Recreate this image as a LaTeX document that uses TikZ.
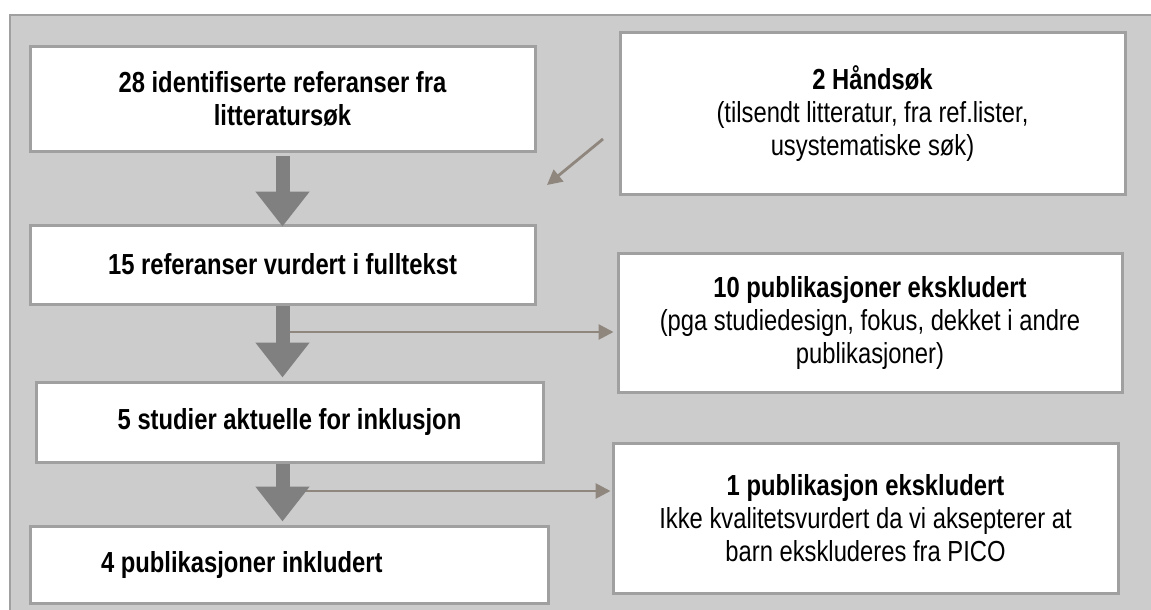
\documentclass[tikz,border=0pt]{standalone}
\usepackage{fontspec}
\setmainfont{Liberation Sans}[FakeStretch=0.82]
\usetikzlibrary{arrows.meta}
\definecolor{bgcol}{HTML}{CCCCCC}
\definecolor{boxline}{HTML}{A0A0A0}
\definecolor{bigarr}{HTML}{808080}
\definecolor{thinarr}{HTML}{8F867E}
\begin{document}
\begin{tikzpicture}[x=1pt,y=-1pt,
  box/.style={draw=boxline, line width=3pt, fill=white, rectangle, inner sep=0pt,
    align=center, font=\fontsize{29}{33}\selectfont},
  bigarrow/.style={draw=bigarr, line width=14pt, -{Triangle[length=35pt,width=52pt]}},
  thinarrow/.style={draw=thinarr, line width=2.8pt, -{Triangle[length=15pt,width=15pt]}}]
\useasboundingbox (0,0) rectangle (1151,610);
\filldraw[fill=bgcol, draw=boxline, line width=2pt] (10,15) rectangle (1170,630);

\node[box, minimum width=505pt, minimum height=104pt] (A) at (282.5,99)
  {\bfseries 28 identifiserte referanser fra\\\bfseries litteratursøk};
\node[box, minimum width=505pt, minimum height=161pt] (E) at (872.5,113.5)
  {\bfseries 2 Håndsøk\\(tilsendt litteratur, fra ref.lister,\\usystematiske søk)};
\node[box, minimum width=505pt, minimum height=79pt] (B) at (282.5,264.5)
  {\bfseries 15 referanser vurdert i fulltekst};
\node[box, minimum width=504pt, minimum height=139pt] (F) at (870,322.5)
  {\bfseries 10 publikasjoner ekskludert\\(pga studiedesign, fokus, dekket i andre\\publikasjoner)};
\node[box, minimum width=507pt, minimum height=80pt] (C) at (289.5,422)
  {\bfseries 5 studier aktuelle for inklusjon};
\node[box, minimum width=505pt, minimum height=150pt] (G) at (865.5,518)
  {\bfseries 1 publikasjon ekskludert\\Ikke kvalitetsvurdert da vi aksepterer at\\barn ekskluderes fra PICO};
\node[box, minimum height=77pt, inner xsep=71pt, text width=376pt, align=flush left] (D) at (289,564.5)
  {\bfseries 4 publikasjoner inkludert};

% thin arrows
\coordinate (d1) at (603,139);
\coordinate (d2) at (547,185);
\draw[thinarrow] (d1) -- (d2);
\coordinate (s1) at (285,332);
\draw[thinarrow, shorten >=3pt] (s1) -- (s1 -| F.west);
\coordinate (s2) at (285,491);
\draw[thinarrow, shorten >=1pt] (s2) -- (s2 -| G.west);

% thick arrows
\draw[bigarrow] ([yshift=-3pt]A.south) -- ([yshift=-3pt]B.north);
\draw[bigarrow] (B.south) -- ([yshift=3pt]B.south |- C.north);
\draw[bigarrow] (B.south |- C.south) -- ([yshift=3pt]B.south |- D.north);
\end{tikzpicture}
\end{document}
